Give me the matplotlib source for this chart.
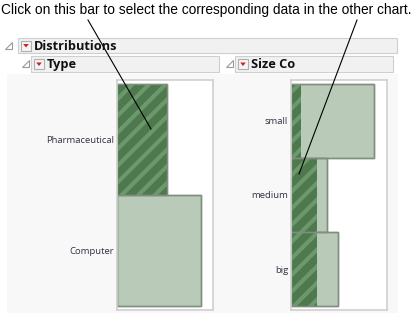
#!/usr/bin/env python3
import matplotlib
matplotlib.use("Agg")
import matplotlib.pyplot as plt
from matplotlib.patches import Rectangle, Polygon

# counts (32 companies)
TYPE_CATS = ["Pharmaceutical", "Computer"]
TYPE_ALL = [12, 20]
TYPE_SEL = [12, 0]

SIZE_CATS = ["small", "medium", "big"]
SIZE_ALL = [16, 7, 9]
SIZE_SEL = [2, 5, 5]

TITLE = "Click on this bar to select the corresponding data in the other chart."

W, H = 412, 313
LIGHT = "#b9cab9"
EDGE = "#7f8e7f"
DARK = "#4e784e"
STRIPE = "#6c996c"

plt.rcParams["hatch.linewidth"] = 3.0


def px_axes(fig, x0, y0, x1, y1, **kw):
    # axes placed by pixel box (origin top-left)
    return fig.add_axes([x0 / W, 1 - y1 / H, (x1 - x0) / W, (y1 - y0) / H], **kw)


def bar_panel(ax, cats, allv, selv, xmax, label_font):
    n = len(cats)
    pos = list(range(n))
    ax.barh(pos, allv, height=1.0, color=LIGHT, edgecolor=EDGE, linewidth=1)
    ax.barh(pos, selv, height=1.0, color=DARK, edgecolor=STRIPE, linewidth=0, hatch="//")
    ax.barh(pos, allv, height=1.0, fill=False, edgecolor=EDGE, linewidth=1)
    pad = 4 / (224 / n)
    ax.set_ylim(n - 0.5 + pad, -0.5 - pad)
    ax.set_xlim(0, xmax)
    ax.set_yticks(pos)
    ax.set_yticklabels(cats, **label_font)
    ax.tick_params(axis="y", length=0, pad=2, colors="#333344")
    ax.set_xticks([])
    for s in ax.spines.values():
        s.set_color("#d0d0d0")
        s.set_linewidth(1.2)


def disclosure(ov, x, y):
    ov.add_patch(Polygon([(x + 7, y - 4), (x + 7, y + 3), (x, y + 3)], closed=True,
                         facecolor="white", edgecolor="#9a9a9a", lw=0.8))


def red_button(ov, x, y):
    ov.add_patch(Rectangle((x, y - 5), 10, 10, facecolor="#f4f4f4", edgecolor="#b0b0b0", lw=0.8))
    ov.add_patch(Polygon([(x + 2.2, y - 1.5), (x + 7.8, y - 1.5), (x + 5, y + 2)], closed=True,
                         facecolor="#d42020", edgecolor="none"))


def header(ov, x0, x1, y0, y1, text, tri_x, btn_x):
    ov.add_patch(Rectangle((x0, y0), x1 - x0, y1 - y0, facecolor="#f1f1f1",
                           edgecolor="#cfcfcf", lw=0.8))
    yc = (y0 + y1) / 2
    disclosure(ov, tri_x, yc)
    red_button(ov, btn_x, yc)
    ov.text(btn_x + 13, yc + 0.5, text, fontsize=9.2, fontweight="bold", family="Open Sans",
            va="center", ha="left", color="#111111")


def main():
    fig = plt.figure(figsize=(W / 100, H / 100), dpi=100)
    fig.patch.set_facecolor("white")

    bg = px_axes(fig, 0, 0, W, H, zorder=0)
    bg.set_xlim(0, W)
    bg.set_ylim(H, 0)
    bg.axis("off")
    bg.add_patch(Rectangle((7, 74), 391, 240, facecolor="#f8f8f8", edgecolor="none"))

    label_font = dict(fontsize=6.8, family="Open Sans")
    ax1 = px_axes(fig, 117, 80, 213, 310, zorder=2)
    bar_panel(ax1, TYPE_CATS, TYPE_ALL, TYPE_SEL, 96 / 4.2, label_font)
    ax2 = px_axes(fig, 291, 80, 387, 310, zorder=2)
    bar_panel(ax2, SIZE_CATS, SIZE_ALL, SIZE_SEL, 96 / 5.19, label_font)

    ov = px_axes(fig, 0, 0, W, H, zorder=5)
    ov.set_xlim(0, W)
    ov.set_ylim(H, 0)
    ov.axis("off")
    ov.patch.set_alpha(0)

    header(ov, 18, 397, 38, 53, "Distributions", 5, 21)
    header(ov, 31, 219, 56, 72, "Type", 22, 34)
    header(ov, 235, 393, 56, 72, "Size Co", 226, 238)

    ov.text(W / 2, 10, TITLE, fontsize=9.9, family="Liberation Sans",
            ha="center", va="center", color="black")
    ov.plot([88, 151], [20, 129], color="black", lw=0.8)
    ov.plot([357, 299], [20, 174], color="black", lw=0.8)

    fig.savefig("out.png", dpi=100)


if __name__ == "__main__":
    main()
